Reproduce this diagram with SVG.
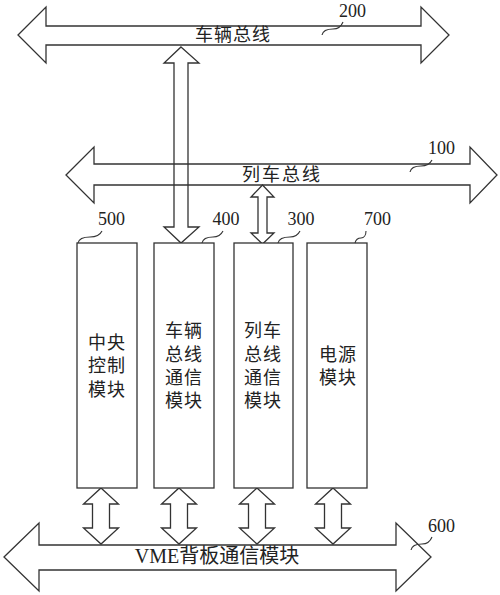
<svg xmlns="http://www.w3.org/2000/svg" width="500" height="595" viewBox="0 0 500 595">
<style>
.s{fill:none;stroke:#333;stroke-width:1.3;stroke-linejoin:miter}
.b{fill:#fff;stroke:#333;stroke-width:1.3}
.l{fill:none;stroke:#333;stroke-width:1.1}
.t{font-family:"Liberation Serif","Noto Sans CJK SC",serif;font-size:18px;fill:#222;text-anchor:middle}
.n{font-family:"Liberation Serif",serif;font-size:18px;fill:#222;text-anchor:middle}
</style>
<rect width="500" height="595" fill="#fff"/>
<g id="bus200">
<path class="s" d="M18 35 L46 7 L46 26 L421 26 L421 7 L449 35 L421 63 L421 45 L46 45 L46 63 Z"/>
<text class="t" x="233" y="41" letter-spacing="1">车辆总线</text>
<text class="n" x="352.5" y="17">200</text>
<path class="l" d="M322 35 C323 30 328 29 333 29 C338 29 341 27 343 22"/>
</g>
<g id="bus100">
<path class="s" d="M66 175 L94 147 L94 164 L470 164 L470 147 L497 175 L470 203 L470 185 L94 185 L94 203 Z"/>
<text class="t" x="282" y="181" letter-spacing="2">列车总线</text>
<text class="n" x="441.5" y="154">100</text>
<path class="l" d="M410 172 C411 167 416 166 421 166 C426 166 430 164 432 160"/>
</g>
<g id="bus600">
<path class="s" d="M4 557 L39 523 L39 545 L396 545 L396 523 L431 557 L396 591 L396 570 L39 570 L39 591 Z"/>
<text class="t" x="217" y="563" style="font-size:20px">VME背板通信模块</text>
<text class="n" x="441.5" y="532">600</text>
<path class="l" d="M411 550 C412 545 417 544 422 544 C427 544 430 542 432 537"/>
</g>
<g id="connectors">
<path class="s" d="M181 47 L199 63 L188 63 L188 227 L199 227 L181 243 L164 227 L174 227 L174 63 L164 63 Z"/>
<path class="s" d="M262.5 185 L274 197 L267 197 L267 233 L274 233 L262.5 244 L251 233 L258 233 L258 197 L251 197 Z"/>
<path class="s" d="M101 488 L118.5 504 L109.5 504 L109.5 528 L118.5 528 L101 544 L83.5 528 L92.5 528 L92.5 504 L83.5 504 Z"/>
<path class="s" d="M179 488 L196.5 504 L187.5 504 L187.5 528 L196.5 528 L179 544 L161.5 528 L170.5 528 L170.5 504 L161.5 504 Z"/>
<path class="s" d="M257 488 L274.5 504 L265.5 504 L265.5 528 L274.5 528 L257 544 L239.5 528 L248.5 528 L248.5 504 L239.5 504 Z"/>
<path class="s" d="M333 488 L350.5 504 L341.5 504 L341.5 528 L350.5 528 L333 544 L315.5 528 L324.5 528 L324.5 504 L315.5 504 Z"/>
</g>
<g id="m500">
<rect class="b" x="77" y="243" width="60" height="245"/>
<text class="t" x="107" y="349" letter-spacing="1">中央</text>
<text class="t" x="107" y="372" letter-spacing="1">控制</text>
<text class="t" x="107" y="396" letter-spacing="1">模块</text>
<text class="n" x="111.5" y="225">500</text>
<path class="l" d="M78 243 C79 238 84 237 90 237 C96 237 100 235 102 231"/>
</g>
<g id="m400">
<rect class="b" x="154" y="243" width="60" height="245"/>
<text class="t" x="184" y="337" letter-spacing="1">车辆</text>
<text class="t" x="184" y="361" letter-spacing="1">总线</text>
<text class="t" x="184" y="384" letter-spacing="1">通信</text>
<text class="t" x="184" y="407" letter-spacing="1">模块</text>
<text class="n" x="226" y="225">400</text>
<path class="l" d="M202 243 C203 238 208 237 213 237 C218 237 221 235 223 231"/>
</g>
<g id="m300">
<rect class="b" x="234" y="243" width="59" height="245"/>
<text class="t" x="263" y="337" letter-spacing="1">列车</text>
<text class="t" x="263" y="361" letter-spacing="1">总线</text>
<text class="t" x="263" y="384" letter-spacing="1">通信</text>
<text class="t" x="263" y="407" letter-spacing="1">模块</text>
<text class="n" x="301" y="225">300</text>
<path class="l" d="M278 243 C279 238 284 237 290 237 C295 237 298 235 300 231"/>
</g>
<g id="m700">
<rect class="b" x="307" y="243" width="60" height="245"/>
<text class="t" x="338" y="361" letter-spacing="1">电源</text>
<text class="t" x="338" y="384" letter-spacing="1">模块</text>
<text class="n" x="377.5" y="225">700</text>
<path class="l" d="M355 243 C356 239 359 238 361 238 C364 238 366 235 366 231"/>
</g>
</svg>
